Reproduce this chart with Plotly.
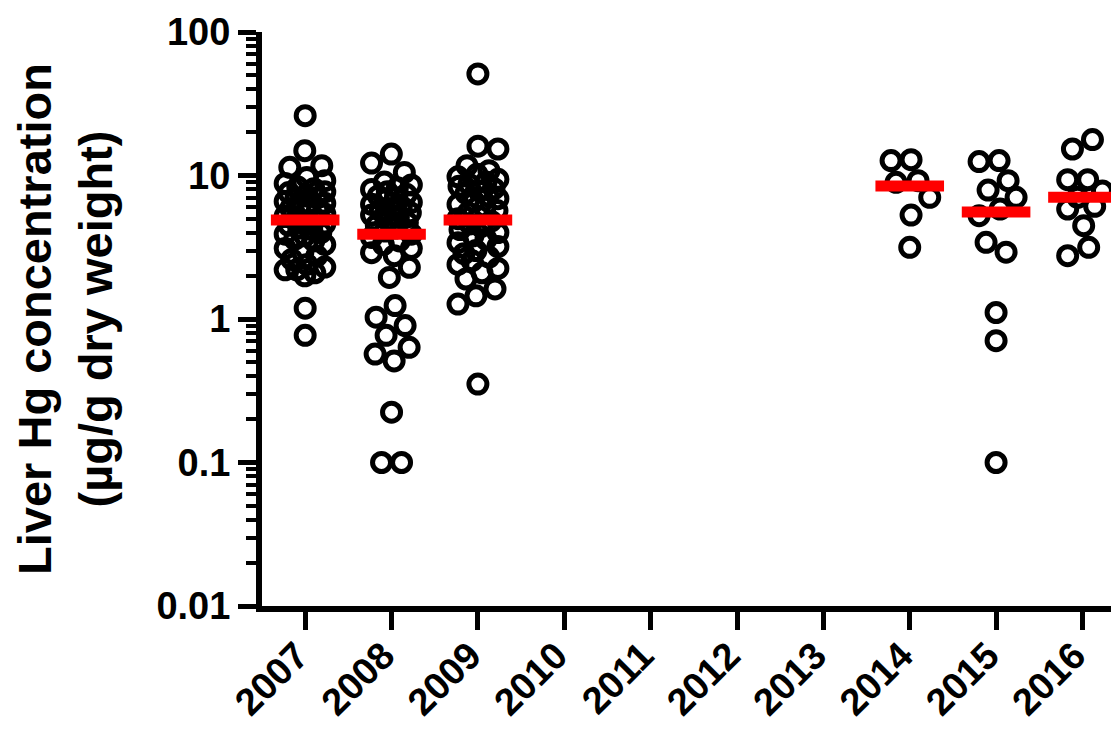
import numpy as np
import plotly.graph_objects as go

# ---------------- data ----------------
years = ["2007", "2008", "2009", "2010", "2011", "2012", "2013", "2014", "2015", "2016"]

hg_2007 = [26.1, 14.9, 11.7, 11.4, 9.7, 9.2,
           8.8, 8.3, 8.1, 7.7, 7.6, 7.2, 7.0, 6.9, 6.6, 6.4, 6.3, 6.0, 5.9, 5.8,
           5.6, 5.4, 5.2, 5.0, 4.9, 4.8, 4.6, 4.5, 4.3, 4.2, 4.0, 3.9, 3.8, 3.6,
           3.5, 3.3, 3.1, 2.9, 2.75,
           2.6, 2.4, 2.3, 2.2, 2.2, 2.1, 2.0,
           1.19, 0.77]
hg_2008 = [14.1, 12.2, 10.5,
           9.0, 8.6, 8.2, 8.0, 7.7, 7.4, 7.2, 7.0, 6.8, 6.5, 6.3, 6.1, 5.9, 5.7,
           5.5, 5.3, 5.1, 4.9, 4.7, 4.5, 4.3, 4.1, 3.9, 3.7, 3.5, 3.3, 3.1, 2.9,
           2.76, 2.29, 1.95, 1.24, 1.03, 0.9, 0.77, 0.635, 0.57, 0.51, 0.224, 0.1, 0.1]
hg_2009 = [51.0, 16.0, 15.3, 11.7, 10.8,
           10.2, 9.8, 9.4, 9.0, 8.7, 8.4, 8.1, 7.8, 7.5, 7.2, 6.9, 6.6, 6.3, 6.0,
           5.7, 5.5, 5.2, 5.0, 4.8, 4.6, 4.4, 4.2, 4.0, 3.8, 3.6, 3.4, 3.2, 3.0,
           2.85, 2.7, 2.55, 2.4, 2.25, 2.1,
           1.9, 1.62, 1.45, 1.27, 0.352]
hg_2010 = []
hg_2011 = []
hg_2012 = []
hg_2013 = []
hg_2014 = [12.9, 12.7, 9.2, 8.97, 7.05, 5.3, 3.16]
hg_2015 = [12.7, 12.5, 9.2, 7.92, 7.05, 5.84, 5.25, 3.42, 2.92, 1.11, 0.706, 0.1]
hg_2016 = [17.8, 15.3, 9.35, 9.35, 7.8, 7.05, 6.1, 5.84, 4.47, 3.16, 2.76]

center_line = [4.9, 3.9, 4.9, None, None, None, None, 8.45, 5.57, 7.05]

y_tick_vals = [0.01, 0.1, 1, 10, 100]
y_tick_text = ["0.01", "0.1", "1", "10", "100"]

groups = [hg_2007, hg_2008, hg_2009, hg_2010, hg_2011, hg_2012, hg_2013,
          hg_2014, hg_2015, hg_2016]

# ---------------- geometry ----------------
# the page body has an 8px default margin, so the figure is sized to fit the window
W, H = 1111, 726
M_L, M_R, M_T, M_B = 254, 2, 24, 128
X_RANGE = [-0.5, 9.4]
PX_PER_CAT = (W - M_L - M_R) / (X_RANGE[1] - X_RANGE[0])
PX_PER_DEC = (H - M_T - M_B) / 4.0


def swarm(values, D=22.0, maxw=20.0):
    """Simple beeswarm layout in pixel space; returns x offsets in category units."""
    if len(values) == 0:
        return np.array([])
    ys = np.log10(np.asarray(values, float)) * PX_PER_DEC
    order = np.argsort(-ys, kind="stable")
    xs = np.zeros(len(ys))
    placed = []
    grid = np.arange(-maxw, maxw + 0.5, 1.0)
    for n, i in enumerate(order):
        y = ys[i]
        sgn = 1 if n % 2 else -1
        cands = sorted(grid, key=lambda c: (abs(c), sgn * c))
        best, bestc, bestd = None, 0.0, -1.0
        for c in cands:
            md = min((np.hypot(c - px, y - py) for px, py in placed), default=np.inf)
            if md >= D:
                best = c
                break
            if md > bestd:
                bestd, bestc = md, c
        if best is None:
            best = bestc
        xs[i] = best
        placed.append((best, y))
    # centre each vertically-connected component
    srt = np.argsort(-ys)
    comp = [[srt[0]]]
    for a, b in zip(srt[:-1], srt[1:]):
        if ys[a] - ys[b] < D:
            comp[-1].append(b)
        else:
            comp.append([b])
    for c in comp:
        m = xs[c].mean()
        xs[c] = np.clip(xs[c] - m, -maxw, maxw)
    return xs / PX_PER_CAT


fig = go.Figure()

for gi, vals in enumerate(groups):
    if not vals:
        continue
    offs = swarm(vals)
    fig.add_trace(go.Scatter(
        x=gi + offs, y=vals, mode="markers",
        marker=dict(symbol="circle-open", size=18, color="black",
                    line=dict(width=5, color="black")),
        showlegend=False, hoverinfo="y"))

cx = [i for i, v in enumerate(center_line) if v is not None]
cy = [v for v in center_line if v is not None]
fig.add_trace(go.Scatter(
    x=cx, y=cy, mode="markers",
    marker=dict(symbol="line-ew", size=49, color="#ff0000",
                line=dict(width=11, color="#ff0000")),
    showlegend=False, hoverinfo="y"))

font_bold = dict(family="Liberation Sans, Arial, sans-serif", size=38,
                 color="black", weight="bold")

minor_vals = [m * 10.0 ** e for e in range(-2, 2) for m in range(2, 10)]

fig.update_layout(
    width=W, height=H,
    margin=dict(l=M_L, r=M_R, t=M_T, b=M_B, autoexpand=False),
    plot_bgcolor="white", paper_bgcolor="white",
    font=font_bold,
    xaxis=dict(
        range=X_RANGE, tickmode="array", tickvals=list(range(len(years))),
        ticktext=years, tickangle=-45, ticks="outside", ticklen=18,
        tickwidth=5, tickcolor="black", showline=True, linewidth=6,
        linecolor="black", showgrid=False, zeroline=False,
        tickfont=font_bold, automargin=False,
        ticklabelstandoff=-12, ticklabelshift=-8),
    yaxis=dict(
        type="log", range=[-2, 2], tickmode="array", tickvals=y_tick_vals,
        ticktext=y_tick_text, ticks="outside", ticklen=18, tickwidth=5,
        tickcolor="black", showline=True, linewidth=6, linecolor="black",
        showgrid=False, zeroline=False, tickfont=font_bold, automargin=False,
        minor=dict(tickmode="array", tickvals=minor_vals, ticks="outside",
                   ticklen=10, tickwidth=4, tickcolor="black", showgrid=False),
        title=dict(text="Liver Hg concentration<br>(µg/g dry weight)",
                   font=dict(family="Liberation Sans, Arial, sans-serif",
                             size=47, color="black", weight="bold"),
                   standoff=47)),
)

fig.write_html("out.html")
